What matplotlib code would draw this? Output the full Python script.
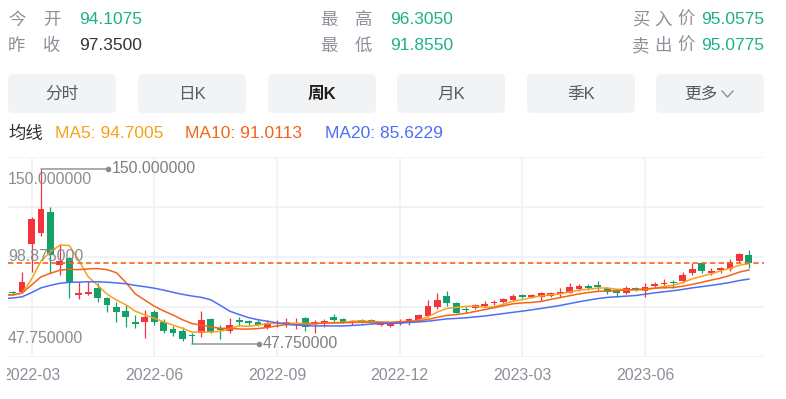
import matplotlib
matplotlib.use("Agg")
import matplotlib.pyplot as plt
from matplotlib.patches import FancyBboxPatch
from matplotlib.lines import Line2D
from matplotlib.transforms import IdentityTransform, offset_copy, Bbox
import numpy as np
import pandas as pd

# weekly candles (index 0..78)
opens = [77.7, 78.1, 106.2, 112.4, 124.7, 93.9, 97.8, 76.4, 76.8, 80.3,
         74.8, 69.5, 67.0, 60.2, 60.4, 66.3, 60.8, 56.3, 55.5, 52.8,
         54.3, 62.5, 56.6, 55.5, 61.1, 60.5, 60.8, 57.5, 59.2, 59.4,
         59.0, 63.1, 59.4, 59.8, 63.7, 62.2, 59.8, 61.4, 61.8, 58.8,
         58.4, 59.4, 59.8, 61.8, 64.1, 69.5, 75.8, 71.5, 68.0, 68.6,
         70.2, 71.5, 72.5, 73.5, 75.7, 75.0, 75.4, 76.0, 77.0, 77.7,
         79.7, 81.6, 82.2, 80.3, 78.0, 77.7, 80.0, 78.9, 81.6, 82.6,
         83.5, 84.7, 89.4, 94.9, 89.0, 91.0, 91.4, 96.4, 99.7]
highs = [78.7, 89.8, 122.0, 150.0, 127.6, 106.2, 98.5, 84.1, 84.5, 83.2,
         75.3, 72.5, 70.5, 64.7, 67.6, 67.6, 62.2, 58.3, 57.5, 54.3,
         67.2, 63.0, 58.8, 62.8, 63.3, 62.0, 61.5, 61.9, 61.5, 62.8,
         62.8, 63.7, 61.8, 62.5, 65.3, 62.8, 62.0, 62.5, 62.2, 60.2,
         60.2, 62.2, 63.0, 65.5, 73.5, 77.4, 78.9, 72.3, 69.5, 71.0,
         73.1, 73.5, 74.8, 76.8, 77.0, 77.0, 78.3, 78.0, 80.7, 83.2,
         83.0, 82.8, 84.7, 80.9, 79.4, 81.5, 81.0, 83.2, 84.0, 85.5,
         85.1, 90.0, 94.9, 95.5, 92.0, 93.0, 97.2, 100.7, 102.7]
lows = [76.4, 77.8, 89.6, 111.0, 89.0, 88.1, 74.8, 73.9, 76.4, 72.5,
        66.6, 60.8, 57.9, 57.1, 51.1, 58.8, 54.0, 52.4, 49.7, 47.75,
        52.0, 54.0, 50.5, 54.3, 58.3, 58.8, 58.3, 56.3, 57.5, 57.5,
        56.3, 55.5, 54.0, 57.9, 60.2, 60.2, 59.0, 59.8, 60.0, 58.0,
        57.8, 59.0, 58.8, 61.0, 63.7, 68.0, 70.0, 65.7, 65.7, 68.0,
        69.2, 70.5, 71.5, 73.0, 74.4, 74.4, 73.0, 75.4, 75.4, 77.4,
        79.0, 79.5, 79.3, 77.0, 75.4, 76.8, 78.9, 75.0, 80.4, 80.7,
        80.7, 83.6, 88.1, 89.5, 88.0, 89.0, 90.6, 95.3, 92.0]
closes = [77.3, 84.0, 120.8, 126.5, 99.7, 96.2, 83.6, 77.7, 78.3, 74.4,
          70.5, 66.3, 63.7, 59.6, 63.7, 60.8, 55.5, 54.0, 50.7, 52.2,
          61.8, 54.9, 56.0, 58.8, 60.5, 60.0, 58.8, 60.2, 60.0, 60.2,
          60.2, 57.9, 60.0, 61.4, 61.8, 60.8, 61.4, 60.6, 60.2, 59.8,
          59.8, 61.4, 62.4, 64.7, 70.0, 73.5, 71.9, 65.7, 67.4, 70.5,
          70.7, 72.5, 74.0, 76.0, 75.4, 76.4, 77.4, 77.4, 78.3, 81.2,
          81.6, 80.3, 80.9, 78.3, 77.7, 80.3, 79.7, 80.9, 82.6, 83.6,
          83.2, 88.1, 91.4, 90.3, 90.6, 92.0, 95.6, 100.2, 95.07]
# closes before the visible window, estimated from where the MA lines start
closes_before = [70, 70, 72, 71, 70, 72, 73, 75, 74, 75, 75,
                 74, 74, 79, 79, 78, 78, 80, 74, 72]

tick_idx = [2, 15, 28, 41, 54, 67]
tick_labels = ["2022-03", "2022-06", "2022-09", "2022-12", "2023-03", "2023-06"]

ma_names = ["MA5: 94.7005", "MA10: 91.0113", "MA20: 85.6229"]
ma_periods = [5, 10, 20]
ma_colors = ["#f8a21c", "#f5631a", "#4d6ef6"]

buttons = ["分时", "日K", "周K", "月K", "季K", "更多"]
active_button = "周K"

GREEN = "#1fb08a"
GRAY = "#8c9099"
UP = "#f5333d"
DOWN = "#13a168"

plt.rcParams["font.family"] = ["Liberation Sans", "Noto Sans CJK SC", "DejaVu Sans"]

W, H = 786, 399
fig = plt.figure(figsize=(W / 100, H / 100), dpi=100)


def ftext(x, y, s, **kw):
    fig.text(x / W, 1 - y / H, s, **kw)


# Header -------------------------------------------------------------
hdr = dict(fontsize=12.5, va="center")
ftext(8, 20, "今", color=GRAY, **hdr)
ftext(43, 20, "开", color=GRAY, **hdr)
ftext(79, 20, "94.1075", color=GREEN, **hdr)
ftext(8, 46, "昨", color=GRAY, **hdr)
ftext(43, 46, "收", color=GRAY, **hdr)
ftext(79, 46, "97.3500", color="#333333", **hdr)
ftext(320, 20, "最", color=GRAY, **hdr)
ftext(355, 20, "高", color=GRAY, **hdr)
ftext(390, 20, "96.3050", color=GREEN, **hdr)
ftext(320, 46, "最", color=GRAY, **hdr)
ftext(355, 46, "低", color=GRAY, **hdr)
ftext(390, 46, "91.8550", color=GREEN, **hdr)
for y, chars, val in [(20, "买入价", "95.0575"), (46, "卖出价", "95.0775")]:
    for cx, ch in zip([632, 654, 677], chars):
        ftext(cx, y, ch, color=GRAY, **hdr)
    ftext(764, y, val, color=GREEN, ha="right", **hdr)

# Buttons ------------------------------------------------------------
btn_left = [8, 138, 268, 397, 527, 656]
for bx, name in zip(btn_left, buttons):
    p = FancyBboxPatch((bx, H - 113), 108, 39, boxstyle="round,pad=0,rounding_size=5",
                       transform=IdentityTransform(), facecolor="#f2f3f5", edgecolor="none")
    fig.patches.append(p)
    if name == "更多":
        ftext(bx + 45, 94, name, color="#555a63", fontsize=12, ha="center", va="center")
        fig.lines.append(Line2D([722, 727.5, 733], [H - 91, H - 97, H - 91],
                                transform=IdentityTransform(), color=GRAY, lw=1))
    elif name == active_button:
        ftext(bx + 54, 94, name, color="#1f1f1f", fontsize=12, ha="center", va="center",
              fontweight="bold")
    else:
        ftext(bx + 54, 94, name, color="#555a63", fontsize=12, ha="center", va="center")

# MA legend ----------------------------------------------------------
ftext(8, 134, "均线", color="#333333", fontsize=12.5, va="center")
for lx, name, c in zip([55, 185, 325], ma_names, ma_colors):
    ftext(lx, 134, name, color=c, fontsize=12.5, va="center")

# Chart ----------------------------------------------------------------
ax = fig.add_axes([8 / W, 42 / H, 756 / W, 200 / H])
ymin, ymax = 40.15, 157.0
ax.set_xlim(-0.49, 79.6)
ax.set_ylim(ymin, ymax)
for s in ax.spines.values():
    s.set_visible(False)
ax.set_yticks(np.linspace(ymin, ymax, 5))
ax.set_yticklabels([])
ax.tick_params(axis="y", length=0)
ax.set_xticks(tick_idx)
ax.set_xticklabels(tick_labels, color=GRAY, fontsize=11.4)
ax.tick_params(axis="x", length=0, pad=8)
ax.grid(True, color="#f0f1f3", lw=1.2)
ax.set_axisbelow(True)

# first date label is cut at the left edge of the chart container
clip = Bbox([[7, 0], [W, H]])
first = ax.get_xticklabels()[0]
first.set_clip_box(clip)
first.set_clip_on(True)

idx = np.arange(len(closes))
o = np.array(opens)
c = np.array(closes)
colors = [UP if cc >= oo else DOWN for oo, cc in zip(o, c)]
ax.vlines(idx, lows, highs, colors=colors, lw=0.9, zorder=2)
body_lo = np.minimum(o, c)
body_h = np.maximum(np.abs(c - o), 1.0)
ax.bar(idx, body_h, bottom=body_lo, width=0.72, color=colors, zorder=3)

# moving averages
all_close = pd.Series(closes_before + closes)
n_before = len(closes_before)
for n, col in zip(ma_periods, ma_colors):
    ma = all_close.rolling(n).mean().to_numpy()[n_before - 1:]
    ax.plot(np.arange(-1, len(closes)), ma, color=col, lw=1.1, zorder=4)

# latest price line
ax.axhline(closes[-1], color="#f5631a", lw=1.2, ls=(0, (3.2, 2)), zorder=4)

# y labels: max, mid, min
hi = max(highs)
lo = min(lows)
mid = (hi + lo) / 2
lab = dict(xycoords=("axes fraction", "data"), textcoords="offset points",
           color="#8a8d94", fontsize=11.4, zorder=6)
ax.annotate(f"{hi:.6f}", xy=(0, hi), xytext=(0, -2), va="top", **lab)
ax.annotate(f"{mid:.6f}", xy=(0, mid), xytext=(0, 0), va="center", **lab)
ax.annotate(f"{lo:.6f}", xy=(0, lo), xytext=(0, 1), va="baseline", **lab)

# max / min markers
for val in (hi, lo):
    k = highs.index(val) if val == hi else lows.index(val)
    ax.annotate("", xy=(k, val), xytext=(48, 0), textcoords="offset points",
                arrowprops=dict(arrowstyle="-", color="#8a8a8a", lw=1,
                                shrinkA=0, shrinkB=0), zorder=5)
    tr = offset_copy(ax.transData, fig=fig, x=48, y=0, units="points")
    ax.plot([k], [val], "o", ms=3, color="#8a8a8a", transform=tr, zorder=5)
    ax.annotate(f"{val:.6f}", xy=(k, val), xytext=(51, 0), textcoords="offset points",
                va="center", color="#7d7f85", fontsize=11.4, zorder=6)

fig.savefig("out.png", dpi=100)
